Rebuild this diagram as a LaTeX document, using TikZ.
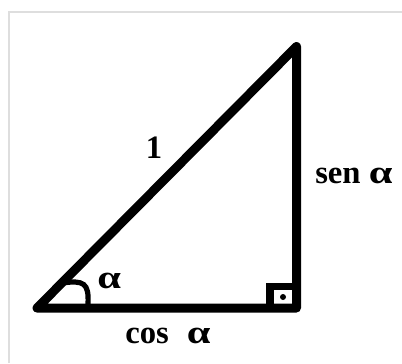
\documentclass[tikz,border=0pt]{standalone}
\usepackage{fontspec}
\setmainfont{Liberation Serif}
\newcommand{\wal}{\scalebox{1.3}[1]{α}}
\begin{document}
\begin{tikzpicture}[x=0.75pt,y=-0.75pt,
  side/.style={line width=6.75pt,line join=round,line cap=round},
  marker/.style={line width=5.5pt,line join=miter},
  anglemark/.style={line width=3.9pt},
  lbl/.style={font=\fontsize{24.5pt}{28pt}\selectfont\bfseries,inner sep=0pt,anchor=base},
  frame/.style={draw=black!13,line width=1.5pt}]
\useasboundingbox (0,0) rectangle (402,363);
\fill[white] (0,0) rectangle (402,363);
\draw[frame] (9,363) -- (9,12) -- (402,12);
\coordinate (A) at (37,308);
\coordinate (B) at (296.5,308);
\coordinate (C) at (296.5,46.5);
\coordinate (R1) at (270,308);
\coordinate (R2) at (270,286.5);
\coordinate (R3) at (296.5,286.5);
\coordinate (M1) at (62,283);
\coordinate (M2) at (88,304);
\draw[side] (A) -- (B) -- (C) -- cycle;
\draw[marker] (R1) -- (R2) -- (R3);
\fill (283,297) circle (3);
\draw[anglemark] (M1) .. controls (84,280) and (89,283) .. (M2);
\node[lbl] (hyp) at (154,159) {1};
\node[lbl,anchor=base west] (opp) at (315,183) {sen \wal};
\node[lbl,anchor=base west] (adj) at (125,343) {cos\hspace{0.3em} \wal};
\node[lbl,anchor=base west] (ang) at (97,288) {\wal};
\end{tikzpicture}
\end{document}
